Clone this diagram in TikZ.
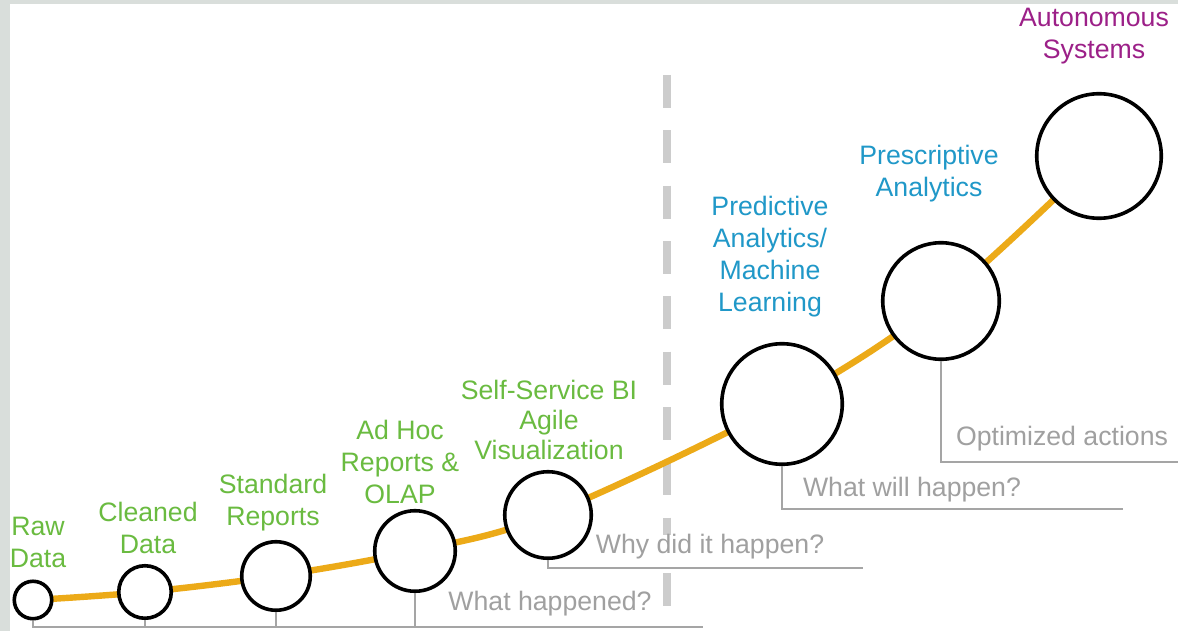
\documentclass[tikz,border=0pt]{standalone}
\usepackage{fontspec}
\setmainfont{Liberation Sans}
\definecolor{frame}{RGB}{217,222,219}
\definecolor{curve}{RGB}{236,170,24}
\definecolor{lgreen}{RGB}{106,187,64}
\definecolor{lblue}{RGB}{32,152,200}
\definecolor{lpurple}{RGB}{156,32,136}
\definecolor{gtext}{RGB}{160,160,160}
\definecolor{gline}{RGB}{165,165,165}
\definecolor{gdash}{RGB}{204,204,204}
\tikzset{
  stage/.style={circle, draw=black, line width=2.7pt, fill=white, inner sep=0pt},
  lab/.style={font=\fontsize{20}{24}\selectfont, align=center, inner sep=0pt},
  qlab/.style={font=\fontsize{20}{24}\selectfont, text=gtext, inner sep=0pt},
  bracket/.style={draw=gline, line width=1.6pt},
}
\begin{document}
\begin{tikzpicture}[x=0.75pt,y=-0.75pt]
\useasboundingbox (0,0) rectangle (1178,631);
\fill[frame] (0,0) rectangle (1178,631);
\fill[white] (10,4) rectangle (1178,631);

% dashed divider
\coordinate (dtop) at (667,75);
\coordinate (dbot) at (667,607);
\draw[gdash, line width=6pt, dash pattern=on 24.75pt off 16.75pt] (dtop) -- (dbot);

% circle positions
\coordinate (c1) at (33,600);
\coordinate (c2) at (145,592);
\coordinate (c3) at (276,576);
\coordinate (c4) at (415,551);
\coordinate (c5) at (548,515);
\coordinate (c6) at (782,404);
\coordinate (c7) at (941,301);
\coordinate (c8) at (1099,156);

% orange curve
\draw[curve, line width=4.8pt, line cap=round] plot[smooth, tension=0.55] coordinates {(c1) (c2) (c3) (c4) (c5) (c6) (c7) (c8)};

% circles
\node[stage, minimum size=28.1pt] (raw) at (c1) {};
\node[stage, minimum size=39.4pt] (clean) at (c2) {};
\node[stage, minimum size=51.4pt] (std) at (c3) {};
\node[stage, minimum size=60.4pt] (adhoc) at (c4) {};
\node[stage, minimum size=64.9pt] (ssbi) at (c5) {};
\node[stage, minimum size=90.4pt] (pred) at (c6) {};
\node[stage, minimum size=87.4pt] (presc) at (c7) {};
\node[stage, minimum size=93.4pt] (auto) at (c8) {};

% brackets
\coordinate (h1) at (703,627);
\coordinate (h2) at (863,568);
\coordinate (h3) at (1123,509);
\coordinate (h4) at (1178,462);
\draw[bracket] (raw.south) -- (raw.south |- h1) -- (h1);
\draw[bracket] (clean.south) -- (clean.south |- h1);
\draw[bracket] (std.south) -- (std.south |- h1);
\draw[bracket] (adhoc.south) -- (adhoc.south |- h1);
\draw[bracket] (ssbi.south) -- (ssbi.south |- h2) -- (h2);
\draw[bracket] (pred.south) -- (pred.south |- h3) -- (h3);
\draw[bracket] (presc.south) -- (presc.south |- h4) -- (h4);

% question labels
\node[qlab] (q1) at (550,604) {What happened?};
\node[qlab, fill=white] (q2) at (710,547) {Why did it happen?};
\node[qlab] (q3) at (912,490) {What will happen?};
\node[qlab] (q4) at (1062,439) {Optimized actions};

% stage labels
\node[lab, text=lgreen] (traw) at (38,542) {Raw\\Data};
\node[lab, text=lgreen] (tclean) at (148,528) {Cleaned\\Data};
\node[lab, text=lgreen] (tstd) at (273,503) {Standard\\Reports};
\node[lab, text=lgreen] (tadhoc) at (400,462) {Ad Hoc\\Reports \&\\OLAP};
\node[lab, text=lgreen, font=\fontsize{20}{22.5}\selectfont] (tssbi) at (549,420) {Self-Service BI\\Agile\\Visualization};
\node[lab, text=lblue] (tpred) at (770,257) {Predictive\\Analytics/\\Machine\\Learning};
\node[lab, text=lblue] (tpresc) at (929,174) {Prescriptive\\Analytics};
\node[lab, text=lpurple] (tauto) at (1094,36) {Autonomous\\Systems};
\end{tikzpicture}
\end{document}
